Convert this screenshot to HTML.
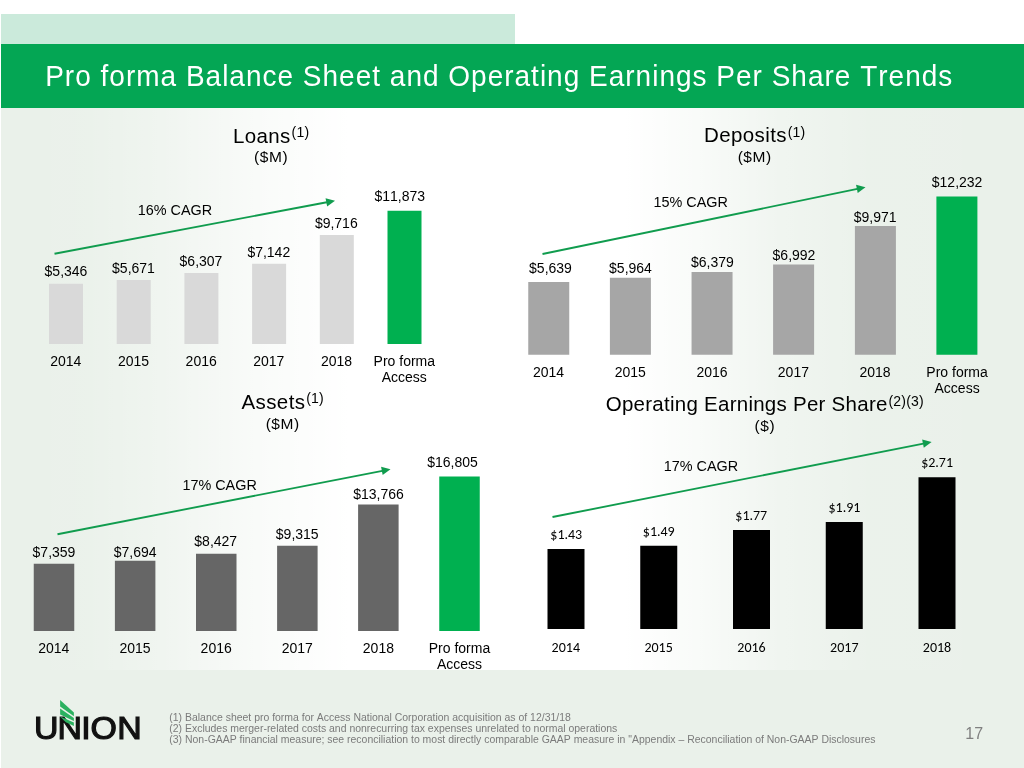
<!DOCTYPE html>
<html lang="en">
<head>
<meta charset="utf-8">
<title>Pro forma Balance Sheet and Operating Earnings Per Share Trends</title>
<style>
html,body{margin:0;padding:0;}
body{width:1024px;height:768px;overflow:hidden;background:#fff;font-family:"Liberation Sans", sans-serif;font-kerning:none;}
#slide{position:absolute;left:0;top:0;width:1024px;height:768px;overflow:hidden;background:#fff;}
#bg{position:absolute;left:1px;top:14px;width:1023px;height:754px;background:#eaf1ea;}
#topwhite{position:absolute;left:514.8px;top:0;width:510px;height:44px;background:#fff;}
#strip{position:absolute;left:1px;top:14px;width:513.8px;height:30px;background:#cbeadb;}
#band{position:absolute;left:1px;top:44px;width:1023px;height:63.7px;background:#04a654;}
#title{position:absolute;left:45.2px;top:45.1px;height:64px;line-height:64px;white-space:nowrap;color:#fff;font-size:28px;letter-spacing:1px;transform:scale(1,1.04);transform-origin:0 41.5px;}
#panel{position:absolute;left:1px;top:108px;width:1023px;height:562px;background:linear-gradient(to right,rgba(255,255,255,0) 0%,rgba(255,255,255,0.04) 8%,rgba(255,255,255,0.3) 16%,rgba(255,255,255,0.72) 25%,#fff 34%,#fff 61%,rgba(255,255,255,0.72) 68%,rgba(255,255,255,0.3) 76%,rgba(255,255,255,0.06) 85%,rgba(255,255,255,0) 100%);}
#charts{position:absolute;left:0;top:0;}
#charts text{font-kerning:none;}
#notes{position:absolute;left:169.3px;top:711.7px;font-size:10.46px;line-height:11.1px;color:#7b7b7b;white-space:nowrap;}
#pageno{position:absolute;left:965.3px;top:724.7px;font-size:16px;line-height:18px;color:#808080;}
</style>
</head>
<body>
<div id="slide">
<div id="bg"></div>
<div id="topwhite"></div>
<div id="strip"></div>
<div id="band"></div>
<div id="title">Pro forma Balance Sheet and Operating Earnings Per Share Trends</div>
<div id="panel"></div>
<svg id="charts" width="1024" height="768" viewBox="0 0 1024 768" fill="#000">
<g id="loans">
<rect x="49" y="283.75" width="34" height="60.25" fill="#d9d9d9"/>
<text class="v" x="66" y="275.75" text-anchor="middle" font-family='"Liberation Sans", sans-serif' font-size="14">$5,346</text>
<text class="y" x="65.75" y="365.7" text-anchor="middle" font-family='"Liberation Sans", sans-serif' font-size="14">2014</text>
<rect x="116.7" y="280" width="34" height="64" fill="#d9d9d9"/>
<text class="v" x="133.5" y="273" text-anchor="middle" font-family='"Liberation Sans", sans-serif' font-size="14">$5,671</text>
<text class="y" x="133.5" y="365.7" text-anchor="middle" font-family='"Liberation Sans", sans-serif' font-size="14">2015</text>
<rect x="184.4" y="273" width="34" height="71" fill="#d9d9d9"/>
<text class="v" x="201" y="266.25" text-anchor="middle" font-family='"Liberation Sans", sans-serif' font-size="14">$6,307</text>
<text class="y" x="201.2" y="365.7" text-anchor="middle" font-family='"Liberation Sans", sans-serif' font-size="14">2016</text>
<rect x="252.1" y="263.75" width="34" height="80.25" fill="#d9d9d9"/>
<text class="v" x="268.8" y="257" text-anchor="middle" font-family='"Liberation Sans", sans-serif' font-size="14">$7,142</text>
<text class="y" x="268.8" y="365.7" text-anchor="middle" font-family='"Liberation Sans", sans-serif' font-size="14">2017</text>
<rect x="319.8" y="235" width="34" height="109" fill="#d9d9d9"/>
<text class="v" x="336.3" y="227.7" text-anchor="middle" font-family='"Liberation Sans", sans-serif' font-size="14">$9,716</text>
<text class="y" x="336.5" y="365.7" text-anchor="middle" font-family='"Liberation Sans", sans-serif' font-size="14">2018</text>
<rect x="387.5" y="210.75" width="34" height="133.25" fill="#00b050"/>
<text class="v" x="399.8" y="201.2" text-anchor="middle" font-family='"Liberation Sans", sans-serif' font-size="14">$11,873</text>
<text class="y" x="404.3" y="365.7" text-anchor="middle" font-family='"Liberation Sans", sans-serif' font-size="14">Pro forma</text>
<text class="y" x="404.3" y="382" text-anchor="middle" font-family='"Liberation Sans", sans-serif' font-size="14">Access</text>
<line x1="54.5" y1="253.75" x2="326.84" y2="202.24" stroke="#109c4e" stroke-width="1.85"/>
<polygon points="335,200.7 327.13,206.46 325.57,198.21" fill="#109c4e"/>
<text class="c" x="175" y="215" text-anchor="middle" font-family='"Liberation Sans", sans-serif' font-size="14.4">16% CAGR</text>
<text class="t" x="271.1" y="142.5" text-anchor="middle" font-family='"Liberation Sans", sans-serif' font-size="20.5" letter-spacing="0.4">Loans<tspan font-size="14" dx="0.8" dy="-5.2" letter-spacing="0.2">(1)</tspan></text>
<text class="u" x="271.1" y="162.2" text-anchor="middle" font-family='"Liberation Sans", sans-serif' font-size="15.5" letter-spacing="0.55">($M)</text>
</g>
<g id="deposits">
<rect x="528.25" y="282" width="41" height="72.75" fill="#a6a6a6"/>
<text class="v" x="550.5" y="273" text-anchor="middle" font-family='"Liberation Sans", sans-serif' font-size="14">$5,639</text>
<text class="y" x="548.6" y="376.5" text-anchor="middle" font-family='"Liberation Sans", sans-serif' font-size="14">2014</text>
<rect x="609.9" y="277.75" width="41" height="77" fill="#a6a6a6"/>
<text class="v" x="630.5" y="272.5" text-anchor="middle" font-family='"Liberation Sans", sans-serif' font-size="14">$5,964</text>
<text class="y" x="630.3" y="376.5" text-anchor="middle" font-family='"Liberation Sans", sans-serif' font-size="14">2015</text>
<rect x="691.55" y="272" width="41" height="82.75" fill="#a6a6a6"/>
<text class="v" x="712.4" y="266.75" text-anchor="middle" font-family='"Liberation Sans", sans-serif' font-size="14">$6,379</text>
<text class="y" x="712" y="376.5" text-anchor="middle" font-family='"Liberation Sans", sans-serif' font-size="14">2016</text>
<rect x="773.1" y="264.5" width="41" height="90.25" fill="#a6a6a6"/>
<text class="v" x="794" y="260" text-anchor="middle" font-family='"Liberation Sans", sans-serif' font-size="14">$6,992</text>
<text class="y" x="793.4" y="376.5" text-anchor="middle" font-family='"Liberation Sans", sans-serif' font-size="14">2017</text>
<rect x="854.9" y="226" width="41" height="128.75" fill="#a6a6a6"/>
<text class="v" x="875.1" y="222" text-anchor="middle" font-family='"Liberation Sans", sans-serif' font-size="14">$9,971</text>
<text class="y" x="875.1" y="376.5" text-anchor="middle" font-family='"Liberation Sans", sans-serif' font-size="14">2018</text>
<rect x="936.4" y="196.5" width="41" height="158.25" fill="#00b050"/>
<text class="v" x="957.1" y="187" text-anchor="middle" font-family='"Liberation Sans", sans-serif' font-size="14">$12,232</text>
<text class="y" x="957.1" y="376.5" text-anchor="middle" font-family='"Liberation Sans", sans-serif' font-size="14">Pro forma</text>
<text class="y" x="957.1" y="392.7" text-anchor="middle" font-family='"Liberation Sans", sans-serif' font-size="14">Access</text>
<line x1="542.5" y1="254" x2="857.37" y2="188.88" stroke="#109c4e" stroke-width="1.85"/>
<polygon points="865.5,187.2 857.73,193.1 856.03,184.87" fill="#109c4e"/>
<text class="c" x="690.75" y="206.5" text-anchor="middle" font-family='"Liberation Sans", sans-serif' font-size="14.4">15% CAGR</text>
<text class="t" x="754.7" y="142" text-anchor="middle" font-family='"Liberation Sans", sans-serif' font-size="20.5" letter-spacing="0.4">Deposits<tspan font-size="14" dx="0.8" dy="-5.2" letter-spacing="0.2">(1)</tspan></text>
<text class="u" x="754.7" y="161.8" text-anchor="middle" font-family='"Liberation Sans", sans-serif' font-size="15.5" letter-spacing="0.55">($M)</text>
</g>
<g id="assets">
<rect x="33.75" y="563.75" width="40.5" height="67.25" fill="#666666"/>
<text class="v" x="54" y="556.75" text-anchor="middle" font-family='"Liberation Sans", sans-serif' font-size="14">$7,359</text>
<text class="y" x="53.8" y="653" text-anchor="middle" font-family='"Liberation Sans", sans-serif' font-size="14">2014</text>
<rect x="114.9" y="560.75" width="40.5" height="70.25" fill="#666666"/>
<text class="v" x="135.1" y="556.75" text-anchor="middle" font-family='"Liberation Sans", sans-serif' font-size="14">$7,694</text>
<text class="y" x="135" y="653" text-anchor="middle" font-family='"Liberation Sans", sans-serif' font-size="14">2015</text>
<rect x="196" y="553.75" width="40.5" height="77.25" fill="#666666"/>
<text class="v" x="215.75" y="545.75" text-anchor="middle" font-family='"Liberation Sans", sans-serif' font-size="14">$8,427</text>
<text class="y" x="216.2" y="653" text-anchor="middle" font-family='"Liberation Sans", sans-serif' font-size="14">2016</text>
<rect x="277.1" y="545.75" width="40.5" height="85.25" fill="#666666"/>
<text class="v" x="297.25" y="538.75" text-anchor="middle" font-family='"Liberation Sans", sans-serif' font-size="14">$9,315</text>
<text class="y" x="297.3" y="653" text-anchor="middle" font-family='"Liberation Sans", sans-serif' font-size="14">2017</text>
<rect x="358.1" y="504.5" width="40.5" height="126.5" fill="#666666"/>
<text class="v" x="378.5" y="498.75" text-anchor="middle" font-family='"Liberation Sans", sans-serif' font-size="14">$13,766</text>
<text class="y" x="378.4" y="653" text-anchor="middle" font-family='"Liberation Sans", sans-serif' font-size="14">2018</text>
<rect x="439.25" y="476.5" width="40.5" height="154.5" fill="#00b050"/>
<text class="v" x="452.5" y="466.75" text-anchor="middle" font-family='"Liberation Sans", sans-serif' font-size="14">$16,805</text>
<text class="y" x="459.5" y="653" text-anchor="middle" font-family='"Liberation Sans", sans-serif' font-size="14">Pro forma</text>
<text class="y" x="459.5" y="669" text-anchor="middle" font-family='"Liberation Sans", sans-serif' font-size="14">Access</text>
<line x1="57.5" y1="534.25" x2="382.35" y2="470.79" stroke="#109c4e" stroke-width="1.85"/>
<polygon points="390.5,469.2 382.67,475.01 381.06,466.77" fill="#109c4e"/>
<text class="c" x="219.6" y="489.5" text-anchor="middle" font-family='"Liberation Sans", sans-serif' font-size="14.4">17% CAGR</text>
<text class="t" x="282.7" y="408.6" text-anchor="middle" font-family='"Liberation Sans", sans-serif' font-size="20.5" letter-spacing="0.4">Assets<tspan font-size="14" dx="0.8" dy="-5.2" letter-spacing="0.2">(1)</tspan></text>
<text class="u" x="282.7" y="428.7" text-anchor="middle" font-family='"Liberation Sans", sans-serif' font-size="15.5" letter-spacing="0.55">($M)</text>
</g>
<g id="eps">
<rect x="547.5" y="549" width="37" height="80" fill="#000000"/>
<text class="v" x="566.25" y="538.75" text-anchor="middle" font-family='Carlito, "Liberation Sans", sans-serif' font-size="14">$1.43</text>
<text class="y" x="565.8" y="652" text-anchor="middle" font-family='Carlito, "Liberation Sans", sans-serif' font-size="14">2014</text>
<rect x="640.25" y="545.75" width="37" height="83.25" fill="#000000"/>
<text class="v" x="658.75" y="535.5" text-anchor="middle" font-family='Carlito, "Liberation Sans", sans-serif' font-size="14">$1.49</text>
<text class="y" x="658.6" y="652" text-anchor="middle" font-family='Carlito, "Liberation Sans", sans-serif' font-size="14">2015</text>
<rect x="733" y="530" width="37" height="99" fill="#000000"/>
<text class="v" x="751.25" y="519.5" text-anchor="middle" font-family='Carlito, "Liberation Sans", sans-serif' font-size="14">$1.77</text>
<text class="y" x="751.5" y="652" text-anchor="middle" font-family='Carlito, "Liberation Sans", sans-serif' font-size="14">2016</text>
<rect x="825.75" y="522" width="37" height="107" fill="#000000"/>
<text class="v" x="844.4" y="511.75" text-anchor="middle" font-family='Carlito, "Liberation Sans", sans-serif' font-size="14">$1.91</text>
<text class="y" x="844.3" y="652" text-anchor="middle" font-family='Carlito, "Liberation Sans", sans-serif' font-size="14">2017</text>
<rect x="918.5" y="477.25" width="37" height="151.75" fill="#000000"/>
<text class="v" x="937.1" y="466.75" text-anchor="middle" font-family='Carlito, "Liberation Sans", sans-serif' font-size="14">$2.71</text>
<text class="y" x="937" y="652" text-anchor="middle" font-family='Carlito, "Liberation Sans", sans-serif' font-size="14">2018</text>
<line x1="552.5" y1="517" x2="923.46" y2="443.61" stroke="#109c4e" stroke-width="1.85"/>
<polygon points="931.6,442 923.78,447.83 922.15,439.59" fill="#109c4e"/>
<text class="c" x="701" y="470.5" text-anchor="middle" font-family='"Liberation Sans", sans-serif' font-size="14.4">17% CAGR</text>
<text class="t" x="764.8" y="411" text-anchor="middle" font-family='"Liberation Sans", sans-serif' font-size="20.5" letter-spacing="0.26">Operating Earnings Per Share<tspan font-size="14" dx="0.8" dy="-5.2" letter-spacing="0.2">(2)(3)</tspan></text>
<text class="u" x="764.8" y="430.6" text-anchor="middle" font-family='"Liberation Sans", sans-serif' font-size="15.5" letter-spacing="0.55">($)</text>
</g>
<g id="logo">
<text transform="scale(1.06 1)" x="32.09 54.29 76.65 85.3 110.57" y="739.4" font-family='"Liberation Sans", sans-serif' font-size="32" fill="#111" stroke="#111" stroke-width="1.2">UNION</text>
<polygon points="60.1,700.1 73.9,712.6 73.9,716.3 60.1,706.5" fill="#2bb160"/>
<polygon points="60.1,708.5 73.9,717.9 73.9,721 60.1,714.4" fill="#2bb160"/>
<polygon points="60.1,716.4 73.9,722.6 73.9,726 65.8,722.3" fill="#2bb160"/>
</g>
</svg>
<div id="notes">(1) Balance sheet pro forma for Access National Corporation acquisition as of 12/31/18<br>(2) Excludes merger-related costs and nonrecurring tax expenses unrelated to normal operations<br>(3) Non-GAAP financial measure; see reconciliation to most directly comparable GAAP measure in &quot;Appendix – Reconciliation of Non-GAAP Disclosures</div>
<div id="pageno">17</div>
</div>
</body>
</html>
